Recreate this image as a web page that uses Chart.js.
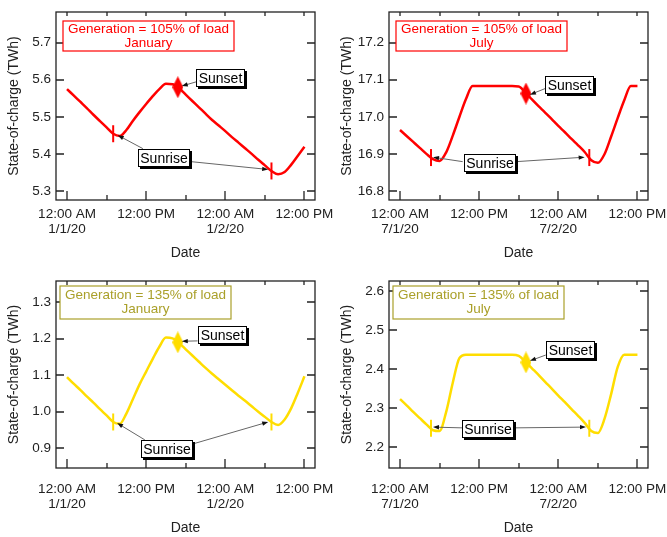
<!DOCTYPE html>
<html>
<head>
<meta charset="utf-8">
<script src="https://cdn.jsdelivr.net/npm/chart.js@4.4.1/dist/chart.umd.min.js"></script>
<style>
  body { margin: 0; background: #fff; }
  .panel { position: absolute; }
</style>
</head>
<body>
<div class="panel" style="left:0;top:0"><canvas id="janLow" width="333" height="268"></canvas></div>
<div class="panel" style="left:333px;top:0"><canvas id="julLow" width="334" height="268"></canvas></div>
<div class="panel" style="left:0;top:268px"><canvas id="janHigh" width="333" height="269"></canvas></div>
<div class="panel" style="left:333px;top:268px"><canvas id="julHigh" width="334" height="269"></canvas></div>
<script>
// hours since midnight of the first day
var hours = [0, 1, 2, 3, 4, 5, 6, 7, 8, 9, 10, 11, 12, 13, 14, 15, 16, 17, 18,
  19, 20, 21, 22, 23, 24, 25, 26, 27, 28, 29, 30, 31, 32, 33, 34, 35, 36];

// state of charge (TWh)
var jan105 = [5.575, 5.558, 5.541, 5.524, 5.506, 5.489, 5.472, 5.455, 5.449, 5.465,
  5.490, 5.513, 5.535, 5.556, 5.575, 5.589, 5.588, 5.577, 5.560, 5.543, 5.526, 5.509,
  5.492, 5.477, 5.462, 5.446, 5.431, 5.416, 5.401, 5.385, 5.370, 5.355, 5.346, 5.352,
  5.372, 5.396, 5.420];
var jul105 = [16.965, 16.949, 16.933, 16.917, 16.901, 16.887, 16.882, 16.905, 16.950,
  17.000, 17.048, 17.083, 17.083, 17.083, 17.083, 17.083, 17.083, 17.083, 17.082,
  17.066, 17.047, 17.029, 17.012, 16.994, 16.976, 16.959, 16.941, 16.924, 16.906,
  16.884, 16.877, 16.900, 16.947, 16.997, 17.045, 17.083, 17.083];
var jan135 = [1.095, 1.077, 1.060, 1.042, 1.025, 1.007, 0.990, 0.972, 0.967, 0.995,
  1.035, 1.075, 1.110, 1.145, 1.178, 1.203, 1.201, 1.188, 1.171, 1.154, 1.137, 1.120,
  1.104, 1.089, 1.074, 1.059, 1.044, 1.030, 1.015, 1.000, 0.986, 0.972, 0.964, 0.979,
  1.010, 1.052, 1.097];
var jul135 = [2.323, 2.307, 2.290, 2.274, 2.258, 2.243, 2.241, 2.290, 2.365, 2.428,
  2.437, 2.437, 2.437, 2.437, 2.437, 2.437, 2.437, 2.437, 2.434, 2.419, 2.402, 2.385,
  2.367, 2.350, 2.332, 2.315, 2.297, 2.280, 2.262, 2.241, 2.236, 2.272, 2.335, 2.405,
  2.437, 2.437, 2.437];

// sunrise / sunset markers
var sunriseJan = [7, 31];
var sunsetJan = [16.8];
var sunriseJul = [4.7, 28.7];
var sunsetJul = [19.1];
var sunriseJan105 = [5.455, 5.355];
var sunsetJan105 = [5.580];
var sunriseJul105 = [16.891, 16.891];
var sunsetJul105 = [17.063];
var sunriseJan135 = [0.972, 0.972];
var sunsetJan135 = [1.190];
var sunriseJul135 = [2.248, 2.248];
var sunsetJul135 = [2.417];

// axes
var xTickHours = [0, 12, 24, 36];
var xMinorHours = [0, 6, 12, 18, 24, 30, 36];
var xLabelsJan = [["12:00 AM", "1/1/20"], "12:00 PM", ["12:00 AM", "1/2/20"], "12:00 PM"];
var xLabelsJul = [["12:00 AM", "7/1/20"], "12:00 PM", ["12:00 AM", "7/2/20"], "12:00 PM"];
var yTicksJan105 = [5.3, 5.4, 5.5, 5.6, 5.7];
var yTicksJul105 = [16.8, 16.9, 17.0, 17.1, 17.2];
var yTicksJan135 = [0.9, 1.0, 1.1, 1.2, 1.3];
var yTicksJul135 = [2.2, 2.3, 2.4, 2.5, 2.6];

var FONT = "'Liberation Sans', Arial, Helvetica, sans-serif";
var RED = "#ff0000";
var YELLOW = "#ffdd00";
var OLIVE = "#aaa02a";

function toPoints(xs, ys) {
  return xs.map(function (x, i) { return { x: x, y: ys[i] }; });
}

function diamond(color) {
  var c = document.createElement("canvas");
  c.width = 11; c.height = 22;
  var g = c.getContext("2d");
  g.fillStyle = color;
  g.beginPath();
  g.moveTo(5.5, 0); g.lineTo(11, 11); g.lineTo(5.5, 22); g.lineTo(0, 11);
  g.closePath();
  g.fill();
  return c;
}

function arrow(ctx, x1, y1, x2, y2) {
  var ang = Math.atan2(y2 - y1, x2 - x1);
  ctx.strokeStyle = "#666";
  ctx.lineWidth = 1;
  ctx.beginPath();
  ctx.moveTo(x1, y1);
  ctx.lineTo(x2 - 5 * Math.cos(ang), y2 - 5 * Math.sin(ang));
  ctx.stroke();
  ctx.fillStyle = "#111";
  ctx.beginPath();
  ctx.moveTo(x2, y2);
  ctx.lineTo(x2 - 6 * Math.cos(ang) + 2.2 * Math.sin(ang), y2 - 6 * Math.sin(ang) - 2.2 * Math.cos(ang));
  ctx.lineTo(x2 - 6 * Math.cos(ang) - 2.2 * Math.sin(ang), y2 - 6 * Math.sin(ang) + 2.2 * Math.cos(ang));
  ctx.closePath();
  ctx.fill();
}

function labelBox(ctx, cx, cy, text) {
  ctx.font = "14px " + FONT;
  var w = Math.round(ctx.measureText(text).width + 5), h = 18;
  var x = Math.round(cx - w / 2), y = Math.round(cy - h / 2);
  ctx.fillStyle = "#000";
  ctx.fillRect(x + 2, y + 2, w, h);
  ctx.fillStyle = "#fff";
  ctx.fillRect(x, y, w, h);
  ctx.strokeStyle = "#000";
  ctx.lineWidth = 1;
  ctx.strokeRect(x + 0.5, y + 0.5, w - 1, h - 1);
  ctx.fillStyle = "#000";
  ctx.textAlign = "center";
  ctx.textBaseline = "middle";
  ctx.fillText(text, x + w / 2, y + h / 2 + 1);
}

var framePlugin = {
  id: "frame",
  afterDraw: function (chart, args, o) {
    var ctx = chart.ctx, a = chart.chartArea, xs = chart.scales.x, ys = chart.scales.y;
    ctx.save();
    // box and inward ticks
    ctx.strokeStyle = "#222";
    ctx.lineWidth = 1.3;
    ctx.strokeRect(a.left, a.top, a.right - a.left, a.bottom - a.top);
    ctx.beginPath();
    o.yTicks.forEach(function (v) {
      var y = Math.round(ys.getPixelForValue(v));
      ctx.moveTo(a.left, y); ctx.lineTo(a.left + 8, y);
      ctx.moveTo(a.right, y); ctx.lineTo(a.right - 8, y);
    });
    xMinorHours.forEach(function (hr) {
      var x = Math.round(xs.getPixelForValue(hr)), len = hr % 12 === 0 ? 9 : 5;
      ctx.moveTo(x, a.bottom); ctx.lineTo(x, a.bottom - len);
      ctx.moveTo(x, a.top); ctx.lineTo(x, a.top + 4);
    });
    ctx.stroke();

    // title box
    ctx.font = "13.5px " + FONT;
    var tx = a.left + o.titleDx, ty = a.top + o.titleDy, th = o.titleH;
    ctx.fillStyle = "#fff";
    ctx.fillRect(tx, ty, 171, th);
    ctx.strokeStyle = o.titleColor;
    ctx.lineWidth = 1.2;
    ctx.strokeRect(tx, ty, 171, th);
    ctx.fillStyle = o.titleColor;
    ctx.textAlign = "center";
    ctx.textBaseline = "middle";
    ctx.fillText(o.title[0], tx + 85.5, ty + th / 2 - 7);
    ctx.fillText(o.title[1], tx + 85.5, ty + th / 2 + 7);

    // arrows then labels
    o.arrows.forEach(function (ar) {
      arrow(ctx, xs.getPixelForValue(ar[0]), ys.getPixelForValue(ar[1]),
        xs.getPixelForValue(ar[2]), ys.getPixelForValue(ar[3]));
    });
    o.labels.forEach(function (lb) {
      labelBox(ctx, xs.getPixelForValue(lb[1]), ys.getPixelForValue(lb[2]), lb[0]);
    });
    ctx.restore();
  }
};

function makePanel(id, cfg) {
  var canvas = document.getElementById(id);
  var H = canvas.height;
  new Chart(canvas.getContext("2d"), {
    type: "line",
    data: {
      datasets: [
        {
          data: toPoints(hours, cfg.values),
          borderColor: cfg.color,
          borderWidth: 2.5,
          pointRadius: 0,
          cubicInterpolationMode: "monotone"
        },
        {
          data: toPoints(cfg.riseX, cfg.riseY),
          showLine: false,
          pointStyle: "line",
          rotation: 90,
          pointRadius: 8.5,
          borderWidth: 2,
          borderColor: cfg.color
        },
        {
          data: toPoints(cfg.setX, cfg.setY),
          showLine: false,
          pointStyle: diamond(cfg.color),
          pointRadius: 11
        }
      ]
    },
    options: {
      responsive: false,
      animation: false,
      events: [],
      layout: { padding: { top: cfg.top, right: canvas.width - 315, left: 0, bottom: 0 } },
      plugins: {
        legend: { display: false },
        tooltip: { enabled: false },
        frame: cfg.frame
      },
      scales: {
        x: {
          type: "linear",
          min: -1.67,
          max: 37.6,
          grid: { display: false, drawTicks: false },
          border: { display: false },
          afterBuildTicks: function (s) {
            s.ticks = xTickHours.map(function (v) { return { value: v }; });
          },
          afterFit: function (s) {
            s.height = H - 200;
            s.paddingLeft = 0;
            s.paddingRight = 0;
          },
          ticks: {
            autoSkip: false,
            maxRotation: 0,
            padding: cfg.xPad,
            color: "#222",
            font: { family: FONT, size: 13.5, lineHeight: 1.1 },
            callback: function (v, i) { return cfg.xLabels[i]; }
          },
          title: {
            display: true,
            text: "Date",
            color: "#222",
            font: { family: FONT, size: 14 },
            padding: { top: 0, bottom: cfg.datePad }
          }
        },
        y: {
          min: cfg.yMin,
          max: cfg.yMax,
          grid: { display: false, drawTicks: false },
          border: { display: false },
          afterBuildTicks: function (s) {
            s.ticks = cfg.yTicks.map(function (v) { return { value: v }; });
          },
          afterFit: function (s) {
            s.width = 56;
            s.paddingTop = 0;
            s.paddingBottom = 0;
          },
          ticks: {
            padding: 5,
            color: "#222",
            font: { family: FONT, size: 13.5 },
            callback: function (v) { return v.toFixed(1); }
          },
          title: {
            display: true,
            text: "State-of-charge (TWh)",
            color: "#222",
            font: { family: FONT, size: 14 },
            padding: { top: 6, bottom: 4 }
          }
        }
      }
    },
    plugins: [framePlugin]
  });
}

makePanel("janLow", {
  values: jan105, color: RED, top: 3, xPad: 7, datePad: 6,
  riseX: sunriseJan, riseY: sunriseJan105, setX: sunsetJan, setY: sunsetJan105,
  yMin: 5.277, yMax: 5.782, yTicks: yTicksJan105, xLabels: xLabelsJan,
  frame: {
    yTicks: yTicksJan105, titleColor: RED, titleDx: 7, titleDy: 9, titleH: 30,
    title: ["Generation = 105% of load", "January"],
    labels: [["Sunset", 23.3, 5.606], ["Sunrise", 14.7, 5.391]],
    arrows: [[19.7, 5.595, 17.4, 5.583], [11.5, 5.415, 7.7, 5.451], [18.8, 5.380, 30.5, 5.359]]
  }
});

makePanel("julLow", {
  values: jul105, color: RED, top: 3, xPad: 7, datePad: 6,
  riseX: sunriseJul, riseY: sunriseJul105, setX: sunsetJul, setY: sunsetJul105,
  yMin: 16.777, yMax: 17.282, yTicks: yTicksJul105, xLabels: xLabelsJul,
  frame: {
    yTicks: yTicksJul105, titleColor: RED, titleDx: 7, titleDy: 9, titleH: 30,
    title: ["Generation = 105% of load", "July"],
    labels: [["Sunset", 25.7, 17.085], ["Sunrise", 13.6, 16.876]],
    arrows: [[22.1, 17.077, 19.7, 17.060], [9.5, 16.880, 5.0, 16.892], [17.6, 16.880, 28.0, 16.892]]
  }
});

makePanel("janHigh", {
  values: jan135, color: YELLOW, top: 13, xPad: 14, datePad: 0,
  riseX: sunriseJan, riseY: sunriseJan135, setX: sunsetJan, setY: sunsetJan135,
  yMin: 0.846, yMax: 1.358, yTicks: yTicksJan135, xLabels: xLabelsJan,
  frame: {
    yTicks: yTicksJan135, titleColor: OLIVE, titleDx: 4, titleDy: 5, titleH: 33,
    title: ["Generation = 135% of load", "January"],
    labels: [["Sunset", 23.6, 1.209], ["Sunrise", 15.2, 0.898]],
    arrows: [[19.8, 1.194, 17.4, 1.193], [11.8, 0.923, 7.6, 0.969], [19.1, 0.912, 30.5, 0.972]]
  }
});

makePanel("julHigh", {
  values: jul135, color: YELLOW, top: 13, xPad: 14, datePad: 0,
  riseX: sunriseJul, riseY: sunriseJul135, setX: sunsetJul, setY: sunsetJul135,
  yMin: 2.146, yMax: 2.626, yTicks: yTicksJul135, xLabels: xLabelsJul,
  frame: {
    yTicks: yTicksJul135, titleColor: OLIVE, titleDx: 4, titleDy: 5, titleH: 33,
    title: ["Generation = 135% of load", "July"],
    labels: [["Sunset", 25.8, 2.449], ["Sunrise", 13.4, 2.246]],
    arrows: [[22.1, 2.436, 19.7, 2.421], [9.4, 2.249, 5.0, 2.251], [17.4, 2.249, 28.2, 2.251]]
  }
});
</script>
</body>
</html>
